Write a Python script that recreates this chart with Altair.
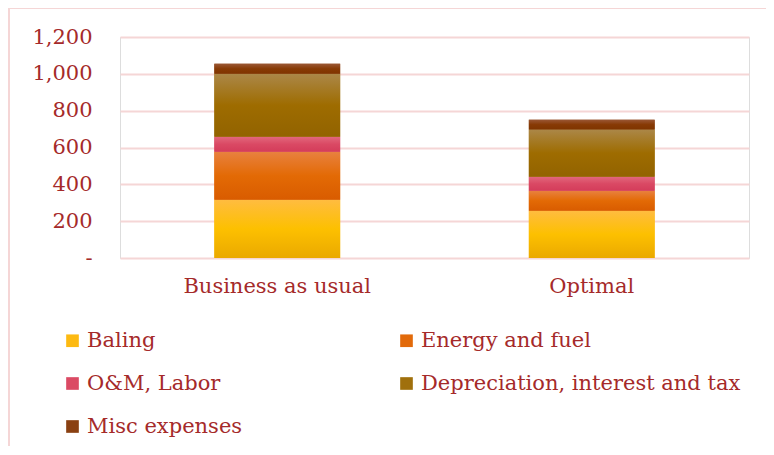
import altair as alt
import pandas as pd

categories = ["Business as usual", "Optimal"]
series = ["Baling", "Energy and fuel", "O&M, Labor", "Depreciation, interest and tax", "Misc expenses"]
bau_values = [316, 261, 81, 342, 55]
optimal_values = [257, 108, 76, 257, 53]
y_ticks = [0, 200, 400, 600, 800, 1000, 1200]

flat_colors = ["#FDBA12", "#E26A0A", "#DB4A64", "#A0700C", "#8A4012"]
gradient_stops = [
    ["#FFBC40", "#FDC000", "#EAA900"],
    ["#E8813F", "#E36A05", "#D95C00"],
    ["#E2677C", "#DA4964", "#D43C5A"],
    ["#AB8748", "#9E6C00", "#926300"],
    ["#9A5735", "#873A05", "#7F3500"],
]

rows = []
for cat, vals in zip(categories, [bau_values, optimal_values]):
    for i, (s, v) in enumerate(zip(series, vals)):
        rows.append({"category": cat, "series": s, "value": v, "order": i})
df = pd.DataFrame(rows)

TEXT = "#A52A2A"
GRID = "#F5D6D6"
FONT = "DejaVu Serif"
FS = 21

base = alt.Chart(df).transform_stack(
    stack="value", as_=["y0", "y1"], groupby=["category"], sort=[alt.SortField("order")]
)

xscale = alt.Scale(domain=categories, paddingInner=0.6, paddingOuter=0.3)
yscale = alt.Scale(domain=[0, 1200], nice=False)

xaxis = alt.Axis(labelAngle=0, labelFontSize=FS, labelColor=TEXT, labelFont=FONT,
                 labelLimit=400, ticks=False, domain=False, labelPadding=17, grid=False)
yaxis = alt.Axis(values=y_ticks,
                 labelExpr="datum.value == 0 ? '-' : format(datum.value, ',')",
                 labelOverlap=False,
                 labelFontSize=FS, labelColor=TEXT, labelFont=FONT, labelPadding=28,
                 ticks=False, domain=False, grid=True, gridColor=GRID, gridWidth=2)


def xenc():
    return alt.X("category:N", sort=categories, title=None, scale=xscale, axis=xaxis)


def yenc():
    return alt.Y("y1:Q", title=None, scale=yscale, axis=yaxis)


legend_layer = base.mark_bar().encode(
    x=xenc(),
    y=yenc(),
    y2="y0:Q",
    color=alt.Color(
        "series:N",
        scale=alt.Scale(domain=series, range=flat_colors),
        legend=alt.Legend(
            title=None, orient="none", legendX=-58, legendY=293, columns=2,
            direction="horizontal",
            symbolType="square", symbolSize=160, symbolStrokeWidth=0,
            labelFontSize=FS, labelColor=TEXT, labelFont=FONT, labelOffset=4,
            columnPadding=153, rowPadding=21, padding=0, labelLimit=400,
        ),
    ),
)

grad_layers = []
for s, stops in zip(series, gradient_stops):
    g = {
        "gradient": "linear", "x1": 0, "y1": 0, "x2": 0, "y2": 1,
        "stops": [
            {"offset": 0, "color": stops[0]},
            {"offset": 0.5, "color": stops[1]},
            {"offset": 1, "color": stops[2]},
        ],
    }
    grad_layers.append(
        base.transform_filter(alt.datum.series == s)
        .mark_bar(color=g)
        .encode(x=xenc(), y=yenc(), y2="y0:Q")
    )

border = alt.Chart(df).mark_rect(fill=None, stroke=GRID, strokeWidth=1.5, clip=False).encode(
    x=alt.value(-111), x2=alt.value(900), y=alt.value(-29), y2=alt.value(600)
)

chart = alt.layer(legend_layer, *grad_layers, border).properties(
    width=629, height=221,
    padding={"left": 112, "top": 29, "right": 17, "bottom": 188},
    autosize=alt.AutoSizeParams(type="none"),
).configure_view(stroke="transparent", strokeWidth=0).configure(background="white")

chart.save("out.html", embed_options={"renderer": "svg", "actions": False})
